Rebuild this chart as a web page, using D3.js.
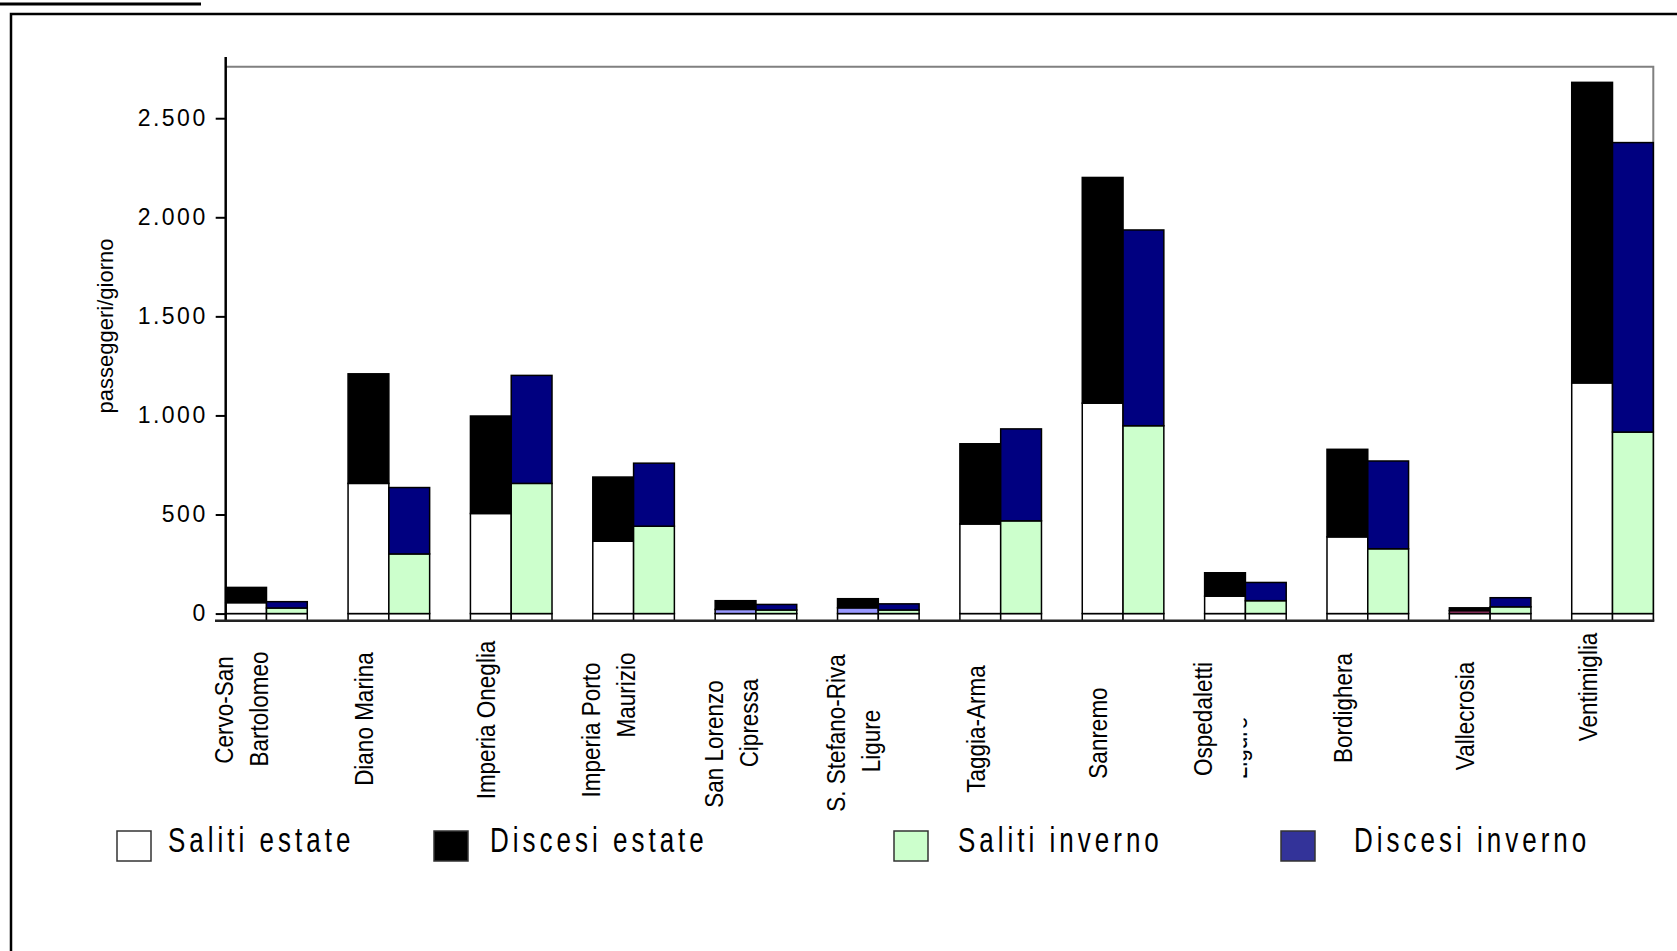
<!DOCTYPE html>
<html>
<head>
<meta charset="utf-8">
<script src="https://cdn.jsdelivr.net/npm/d3@7"></script>
<style>
  body { margin: 0; background: #fff; }
  svg { display: block; }
  text { font-family: "Liberation Sans", Arial, sans-serif; fill: #000; }
</style>
</head>
<body>
<script>
// Dati (passeggeri/giorno per stazione)
var categories = ['Cervo-San Bartolomeo', 'Diano Marina', 'Imperia Oneglia', 'Imperia Porto Maurizio',
    'San Lorenzo Cipressa', 'S. Stefano-Riva Ligure', 'Taggia-Arma', 'Sanremo',
    'Ospedaletti Ligure', 'Bordighera', 'Vallecrosia', 'Ventimiglia']
var tickLabels = [['Cervo-San', 'Bartolomeo'], ['Diano Marina'], ['Imperia Oneglia'], ['Imperia Porto', 'Maurizio'],
    ['San Lorenzo', 'Cipressa'], ['S.  Stefano-Riva', 'Ligure'], ['Taggia-Arma'], ['Sanremo'],
    ['Ospedaletti', 'Ligure'], ['Bordighera'], ['Vallecrosia'], ['Ventimiglia']]

var salitiEstate = [55, 657, 505, 365, 21, 29, 452, 1062, 88, 387, 15, 1164]
var discesiEstate = [77, 553, 492, 324, 44, 46, 405, 1139, 118, 442, 14, 1517]
var salitiInverno = [28, 301, 657, 441, 18, 18, 468, 948, 65, 327, 34, 916]
var discesiInverno = [32, 335, 545, 318, 28, 31, 464, 988, 92, 443, 46, 1461]

var yTicks = [0, 500, 1000, 1500, 2000, 2500]
var seriesNames = ['Saliti estate', 'Discesi estate', 'Saliti inverno', 'Discesi inverno']

// Colori
var colours = {
    salitiEstate: '#ffffff',
    discesiEstate: '#000000',
    salitiInverno: '#ccffcc',
    discesiInverno: '#000080'
}
var legendColours = ['#ffffff', '#000000', '#ccffcc', '#333399']
// colori dei singoli punti (come nel foglio originale)
var pointColours = {
    'San Lorenzo Cipressa': '#9999ff',
    'S. Stefano-Riva Ligure': '#9999ff',
    'Vallecrosia': '#993366'
}

// Layout
var width = 1677
var height = 951
var plot = { left: 225.7, right: 1653.3, top: 66.7, bottom: 620.7 }
var labelCentreY = [[710, 709], [719], [720], [730, 695], [744, 723], [733, 741], [729], [733], [719, 748], [708], [716], [687]]

var table = categories.map((c, i) => ({
    cat: c,
    salitiEstate: salitiEstate[i],
    discesiEstate: discesiEstate[i],
    salitiInverno: salitiInverno[i],
    discesiInverno: discesiInverno[i]
}))

var svg = d3.select('body').append('svg')
    .attr('width', width)
    .attr('height', height)

// Cornice
svg.append('line').attr('x1', 0).attr('x2', 201).attr('y1', 4).attr('y2', 4)
    .attr('stroke', '#000').attr('stroke-width', 3)
svg.append('path').attr('d', d3.line()([[11, height], [11, 14], [width, 14]]))
    .attr('fill', 'none').attr('stroke', '#000').attr('stroke-width', 2.5)

// Scale
var x = d3.scaleBand()
    .domain(categories)
    .range([plot.left, plot.right])
    .paddingInner(1 / 3)
    .paddingOuter(0)
    .align(0)

var xSeason = d3.scaleBand()
    .domain(['estate', 'inverno'])
    .range([0, x.bandwidth()])

var y = d3.scaleLinear()
    .domain([-36, 2760])
    .range([plot.bottom, plot.top])

var itFormat = d3.formatLocale({ decimal: ',', thousands: '.', grouping: [3], currency: ['€', ''] }).format(',')

// Bordo area del grafico
svg.append('path')
    .attr('d', d3.line()([[plot.left, plot.top], [plot.right, plot.top], [plot.right, plot.bottom]]))
    .attr('fill', 'none').attr('stroke', '#808080').attr('stroke-width', 2)

// Barre impilate
var stacks = [
    { season: 'estate', keys: ['salitiEstate', 'discesiEstate'] },
    { season: 'inverno', keys: ['salitiInverno', 'discesiInverno'] }
]

stacks.forEach(s => {
    var layers = d3.stack().keys(s.keys)(table)
    var g = svg.append('g')

    // piede sotto lo zero
    g.selectAll('rect.base').data(table).join('rect')
        .attr('class', 'base')
        .attr('x', d => x(d.cat) + xSeason(s.season))
        .attr('width', xSeason.bandwidth())
        .attr('y', y(0))
        .attr('height', y(y.domain()[0]) - y(0))
        .attr('fill', '#fff')
        .attr('stroke', '#000')
        .attr('stroke-width', 1.5)

    layers.forEach(layer => {
        g.selectAll('rect.' + layer.key).data(layer).join('rect')
            .attr('class', layer.key)
            .attr('x', d => x(d.data.cat) + xSeason(s.season))
            .attr('width', xSeason.bandwidth())
            .attr('y', d => y(d[1]))
            .attr('height', d => y(d[0]) - y(d[1]))
            .attr('fill', d => (layer.key == 'salitiEstate' && pointColours[d.data.cat]) || colours[layer.key])
            .attr('stroke', '#000')
            .attr('stroke-width', 1.5)
    })
})

// Asse Y
var yAxis = svg.append('g')
    .attr('transform', `translate(${plot.left},0)`)
    .call(d3.axisLeft(y).tickValues(yTicks).tickSize(10).tickPadding(8).tickFormat(itFormat))
yAxis.select('.domain').remove()
yAxis.selectAll('.tick line').attr('stroke', '#000').attr('stroke-width', 2)
yAxis.selectAll('.tick text')
    .attr('font-size', '23px')
    .attr('letter-spacing', '2.5px')
    .attr('font-family', '"Liberation Sans", Arial, sans-serif')
    .attr('dy', '0.3em')
svg.append('line')
    .attr('x1', plot.left).attr('x2', plot.left)
    .attr('y1', 57).attr('y2', plot.bottom + 1)
    .attr('stroke', '#000').attr('stroke-width', 2.5)

// Asse X
svg.append('line')
    .attr('x1', 215).attr('x2', plot.right + 1)
    .attr('y1', plot.bottom).attr('y2', plot.bottom)
    .attr('stroke', '#222').attr('stroke-width', 2.5)

// Titolo asse Y
svg.append('text')
    .attr('transform', 'translate(105,326) rotate(-90)')
    .attr('text-anchor', 'middle')
    .attr('dy', '0.35em')
    .attr('font-size', '22px')
    .text('passeggeri/giorno')

// Etichette categorie (ruotate)
var defs = svg.append('defs')
defs.append('clipPath').attr('id', 'clip-osp')
    .append('rect')
    .attr('x', x('Ospedaletti Ligure') + x.bandwidth() / 2 - 2)
    .attr('y', 600).attr('width', 30).attr('height', 250)

var labels = svg.append('g')
tickLabels.forEach((lines, i) => {
    var cx = x(categories[i]) + x.bandwidth() / 2 - 25
    lines.forEach((line, j) => {
        var lx = cx + (j - (lines.length - 1) / 2) * 35
        var holder = labels.append('g')
        if (categories[i] == 'Ospedaletti Ligure' && j == 1) holder.attr('clip-path', 'url(#clip-osp)')
        holder.append('text')
            .attr('transform', `translate(${lx},${labelCentreY[i][j]}) rotate(-90) scale(1,1.15)`)
            .attr('text-anchor', 'middle')
            .attr('dy', '0.35em')
            .attr('font-size', '22.5px')
            .text(line)
    })
})

// Legenda
var legendX = [117, 434, 894, 1281]
var legendTextX = [168, 490, 958, 1354]
var legend = svg.append('g')
seriesNames.forEach((name, i) => {
    legend.append('rect')
        .attr('x', legendX[i]).attr('y', 831)
        .attr('width', 34).attr('height', 30)
        .attr('fill', legendColours[i])
        .attr('stroke', '#333').attr('stroke-width', 1.5)
    legend.append('text')
        .attr('transform', `translate(${legendTextX[i]},852) scale(1,1.33)`)
        .attr('font-size', '26px')
        .attr('letter-spacing', '4px')
        .text(name)
})
</script>
</body>
</html>
